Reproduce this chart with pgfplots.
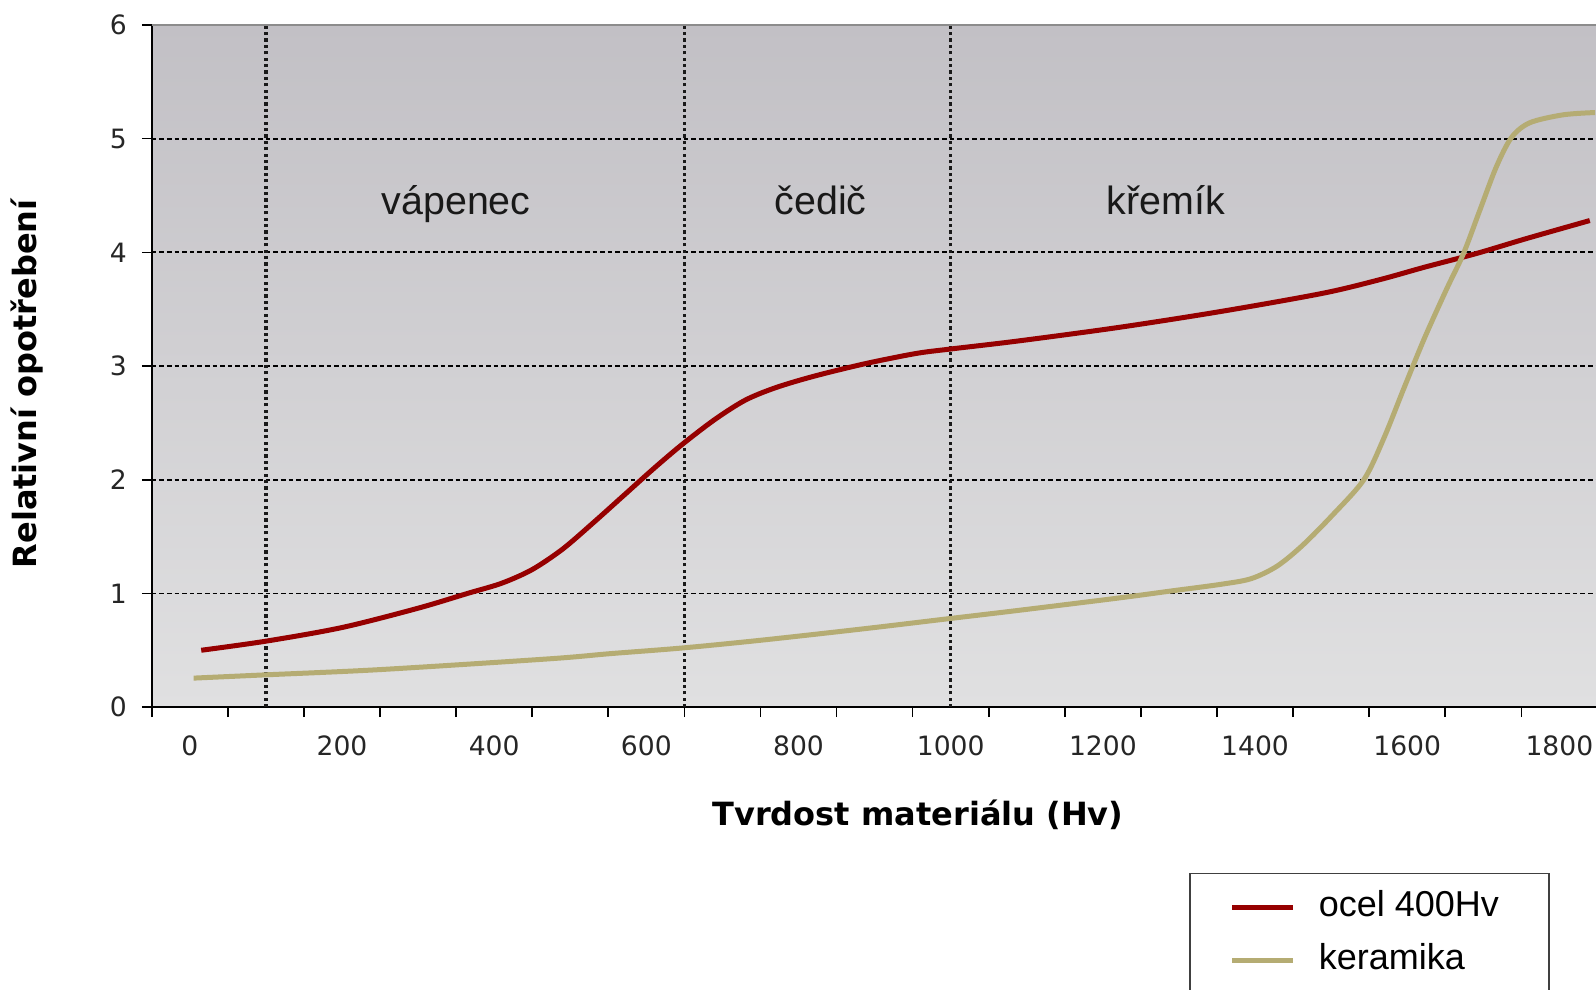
\documentclass[border=0pt]{standalone}
\usepackage{pgfplots}
\pgfplotsset{compat=1.18}
\usepackage{fontspec}
\setmainfont{Liberation Sans}
\newfontfamily\dejavu{DejaVu Sans}

\definecolor{ocel}{RGB}{150,0,0}
\definecolor{keram}{RGB}{181,172,115}
\definecolor{bgtop}{RGB}{194,192,197}
\definecolor{bgbot}{RGB}{224,224,225}

\begin{document}
\begin{tikzpicture}
\begin{axis}[
    at={(0,0)}, anchor=south west,
    scale only axis,
    width=722.9pt, height=341.1pt,
    xmin=-50, xmax=1850,
    ymin=0, ymax=6,
    axis x line*=bottom, axis y line*=left,
    axis line style={black, line width=0.8pt},
    axis background/.style={top color=bgtop, bottom color=bgbot},
    xtick={0,200,...,1800},
    minor xtick={-50,50,...,1850},
    major x tick style={draw=none},
    ytick={0,1,...,6},
    tick align=outside,
    major tick length=5pt, minor tick length=5pt,
    tick style={black, line width=0.8pt},
    ymajorgrids,
    grid style={black, line width=0.9pt, dash pattern=on 2.3pt off 1.5pt},
    /pgf/number format/assume math mode=true,
    /pgf/number format/1000 sep={},
    ticklabel style={font=\dejavu\fontsize{13.3}{16}\selectfont, text=black!85},
    xticklabel style={yshift=-6pt},
    yticklabel style={xshift=-4pt},
    xlabel={Tvrdost materiálu (Hv)},
    ylabel={Relativní opotřebení},
    xlabel style={font=\dejavu\bfseries\fontsize{16}{19}\selectfont,
        at={(axis description cs:0.530,-0.158)}, anchor=center},
    ylabel style={font=\dejavu\bfseries\fontsize{16}{19}\selectfont,
        at={(axis description cs:-0.086,0.474)}, anchor=center, rotate=0},
    legend style={at={(axis description cs:0.7175,-0.2429)}, anchor=north west,
        draw=black!75, line width=0.8pt, fill=white,
        inner xsep=20pt, inner ysep=3.8pt, row sep=0pt, column sep=6.5pt,
        nodes={inner xsep=5pt, inner ysep=5.5pt, text height=12pt, text depth=3.5pt,
               font=\fontsize{18}{21}\selectfont}},
    legend cell align=left,
    legend image code/.code={\draw[#1, line width=2.5pt] (0pt,0pt) -- (30.5pt,0pt);},
]

% vertical separators of the material ranges
\addplot[forget plot, black!90, line width=1.7pt, dash pattern=on 1.6pt off 1.6pt]
    coordinates {(100,0) (100,6)};
\addplot[forget plot, black!90, line width=1.7pt, dash pattern=on 1.6pt off 1.6pt]
    coordinates {(650,0) (650,6)};
\addplot[forget plot, black!90, line width=1.7pt, dash pattern=on 1.6pt off 1.6pt]
    coordinates {(1000,0) (1000,6)};

\addplot[ocel, line width=2.5pt, smooth, tension=0.5] coordinates {
    (15,0.50) (100,0.58) (200,0.70) (300,0.87) (365,1.00) (410,1.09)
    (450,1.21) (490,1.39) (530,1.62) (570,1.86) (610,2.10) (647,2.31)
    (690,2.53) (730,2.70) (770,2.81) (820,2.91) (887,3.02) (954,3.11)
    (1000,3.15) (1088,3.22) (1221,3.34) (1355,3.48) (1489,3.64) (1564,3.76)
    (1623,3.87) (1691,3.99) (1756,4.12) (1840,4.28)
};
\addlegendentry{ocel 400Hv}

\addplot[keram, line width=2.5pt, smooth, tension=0.5] coordinates {
    (5,0.255) (100,0.284) (250,0.33) (473,0.425) (552,0.47) (647,0.52)
    (753,0.59) (887,0.69) (1000,0.78) (1088,0.85) (1221,0.96) (1288,1.02)
    (1355,1.08) (1395,1.13) (1429,1.24) (1462,1.42) (1502,1.69) (1543,2.00)
    (1569,2.36) (1596,2.81) (1623,3.25) (1652,3.68) (1674,3.99) (1696,4.38)
    (1717,4.75) (1737,5.01) (1761,5.14) (1805,5.21) (1847,5.23)
};
\addlegendentry{keramika}

\node[anchor=base, font=\fontsize{19.7}{23}\selectfont, text=black!90] at (axis cs:350,4.33) {vápenec};
\node[anchor=base, font=\fontsize{19.7}{23}\selectfont, text=black!90] at (axis cs:829,4.33) {čedič};
\node[anchor=base, font=\fontsize{19.7}{23}\selectfont, text=black!90] at (axis cs:1283,4.33) {křemík};

\draw[black!45, line width=0.8pt] (rel axis cs:0,1) -- (rel axis cs:1,1);
\end{axis}
\pgfresetboundingbox
\useasboundingbox (-75.9pt,-141.3pt) rectangle (722.2pt,353.6pt);
\end{tikzpicture}
\end{document}
